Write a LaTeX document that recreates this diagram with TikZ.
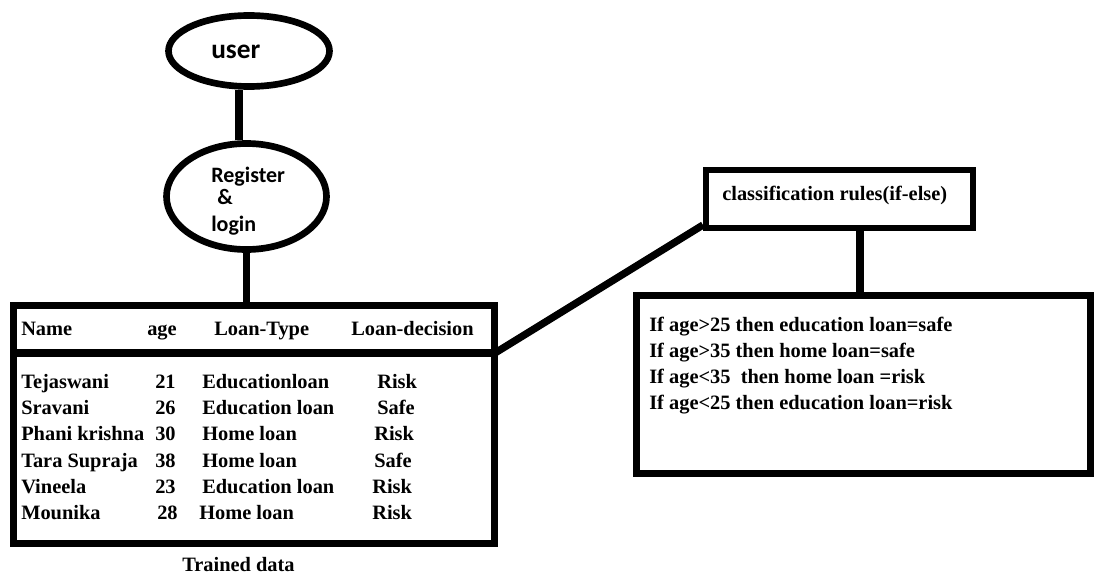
\documentclass[tikz,border=0pt]{standalone}
\usepackage{fontspec}
\setmainfont{Liberation Serif}
\newfontfamily\carlitofont{Carlito}
\usetikzlibrary{shapes.geometric}
\begin{document}
\begin{tikzpicture}[x=0.75pt,y=-0.75pt,
  ell/.style={draw, ellipse, line width=5pt, inner sep=0pt},
  boxshape/.style={draw, rectangle, line width=5.25pt, inner sep=0pt},
  conn/.style={line width=5.5pt},
  txt/.style={anchor=base west, inner sep=0pt, font=\bfseries\fontsize{15.3}{18}\selectfont},
  stxt/.style={anchor=base west, inner sep=0pt, font=\carlitofont\bfseries\fontsize{16.5}{20}\selectfont}]
\useasboundingbox (0,0) rectangle (1094,574);

% ellipses
\node[ell, minimum width=120.75pt, minimum height=53.25pt] (user) at (249,51) {};
\node[ell, minimum width=120pt, minimum height=79.5pt] (reg) at (246.5,196.5) {};
\node[stxt, font=\carlitofont\bfseries\fontsize{20.5}{24}\selectfont] (usertxt) at (211,59) {user};
\node[stxt] (regtxt1) at (211,182) {Register};
\node[stxt] (regtxt2) at (217,204) {\&};
\node[stxt] (regtxt3) at (211,231) {login};

% table
\node[boxshape, minimum width=361.1pt, minimum height=178.5pt] (tbl) at (254.25,424.5) {};
\coordinate (sepL) at (13.5,353);
\coordinate (sepR) at (495,353);
\draw[conn] (sepL) -- (sepR);

\node[txt] (hname) at (21,335.6) {Name};
\node[txt] (hage) at (147,335.6) {age};
\node[txt] (htype) at (214,335.6) {Loan-Type};
\node[txt] (hdec) at (351,335.6) {Loan-decision};

\foreach \nm/\ag/\ax/\ty/\tx/\de/\dx/\yy [count=\i] in {
  Tejaswani/21/155/Educationloan/202/Risk/377/388.6,
  Sravani/26/155/Education loan/202/Safe/377/414.6,
  Phani krishna/30/155/Home loan/202/Risk/374/440.6,
  Tara Supraja/38/155/Home loan/202/Safe/374/467.6,
  Vineela/23/155/Education loan/202/Risk/372/493.6,
  Mounika/28/157/Home loan/199/Risk/372/519.6}{
  \node[txt] (rn\i) at (21,\yy) {\nm};
  \node[txt] (ra\i) at (\ax,\yy) {\ag};
  \node[txt] (rt\i) at (\tx,\yy) {\ty};
  \node[txt] (rd\i) at (\dx,\yy) {\de};
}
\node[txt] (trained) at (182,571.6) {Trained data};

% classification box
\node[boxshape, line width=4.5pt, minimum width=200.25pt, minimum height=43.5pt] (cls) at (839.5,199) {};
\node[txt] (clstxt) at (722,200.6) {classification rules(if-else)};

% rules box
\node[boxshape, minimum width=340.5pt, minimum height=133.5pt] (rules) at (863.5,384.5) {};
\node[txt] (rule1) at (649,331.6) {If age>25 then education loan=safe};
\node[txt] (rule2) at (649,357.6) {If age>35 then home loan=safe};
\node[txt] (rule3) at (649,383.6) {If age<35\ \ then home loan =risk};
\node[txt] (rule4) at (649,409.6) {If age<25 then education loan=risk};

% connectors
\draw[conn] ([xshift=-7.5pt]user.south) -- ([xshift=-7.5pt]user.south |- reg.north);
\draw[conn] (reg.south) -- (reg.south |- tbl.north);
\draw[conn] (sepR) -- ([yshift=4.5pt]cls.south west);
\draw[conn] ([xshift=15.4pt]cls.south) -- ([xshift=15.4pt]cls.south |- rules.north);
\end{tikzpicture}
\end{document}
